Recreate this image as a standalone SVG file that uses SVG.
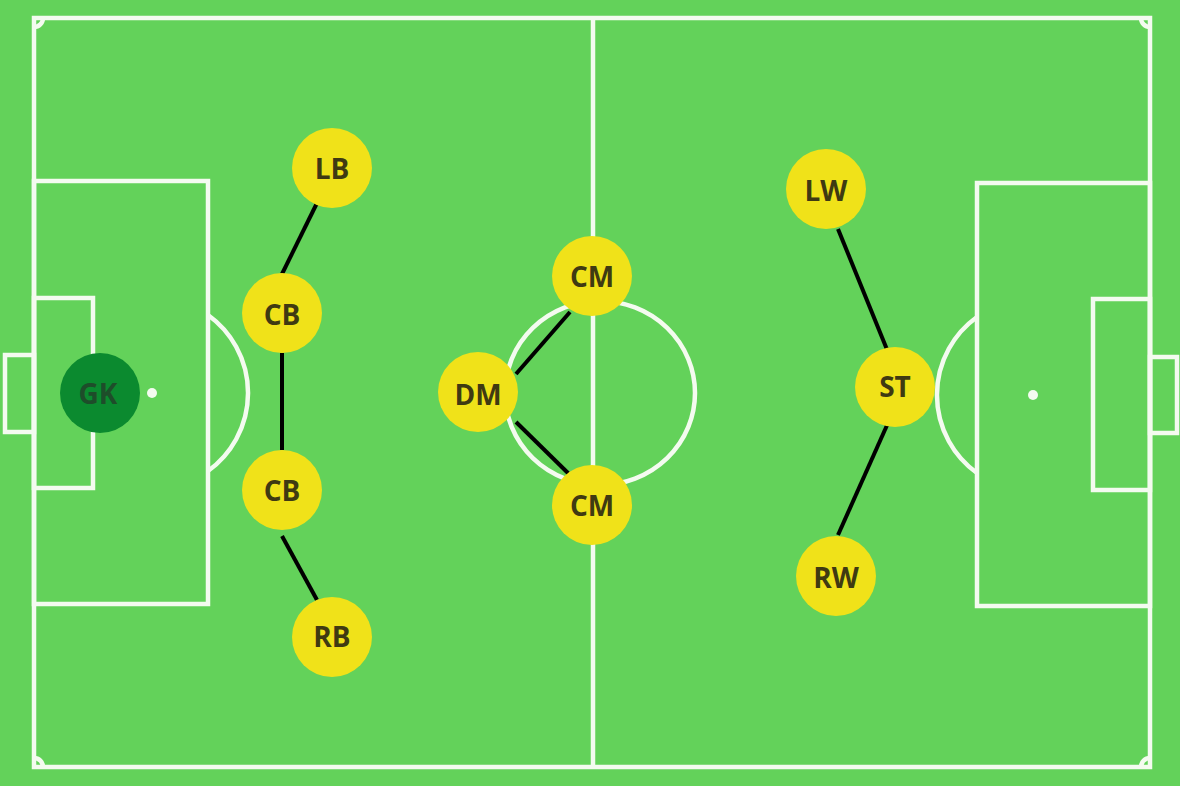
<svg xmlns="http://www.w3.org/2000/svg" width="1180" height="786" viewBox="0 0 1180 786">
<style>
.field{fill:none;stroke:#f4fbf0;stroke-width:4.5}
.spot{fill:#f4fbf0}
.conn{stroke:#000;stroke-width:4;stroke-linecap:butt}
.p{fill:#f0e219}
.gk{fill:#0b8a2f}
.lbl{font-family:"Open Sans","DejaVu Sans",sans-serif;font-weight:700;font-size:28px;fill:#3f3a12;text-anchor:middle}
.gkl{fill:#1e4d2a}
</style>
<rect width="1180" height="786" fill="#63d25a"/>
<g id="pitch">
<rect class="field" x="34" y="18" width="1116" height="749"/>
<line class="field" x1="593" y1="18" x2="593" y2="767"/>
<ellipse class="field" cx="600" cy="393" rx="95" ry="92"/>
<rect class="field" x="34" y="181" width="174" height="423"/>
<rect class="field" x="34" y="298" width="59" height="190"/>
<rect class="field" x="5" y="355" width="29" height="77"/>
<circle class="spot" cx="152" cy="393" r="5"/>
<path class="field" d="M208,315 A96,96 0 0 1 208,471"/>
<rect class="field" x="977" y="183" width="173" height="423"/>
<rect class="field" x="1093" y="299" width="57" height="191"/>
<rect class="field" x="1150" y="357" width="27" height="76"/>
<circle class="spot" cx="1033" cy="395" r="5"/>
<path class="field" d="M977,317 A96,96 0 0 0 977,473"/>
<path class="field" d="M34,27 A9,9 0 0 0 43,18"/>
<path class="field" d="M1141,18 A9,9 0 0 0 1150,27"/>
<path class="field" d="M43,767 A9,9 0 0 0 34,758"/>
<path class="field" d="M1150,758 A9,9 0 0 0 1141,767"/>
</g>
<g id="connectors">
<line class="conn" x1="317" y1="203" x2="282" y2="274"/>
<line class="conn" x1="282" y1="353" x2="282" y2="450"/>
<line class="conn" x1="282" y1="536" x2="317" y2="600"/>
<line class="conn" x1="516" y1="374" x2="570" y2="312"/>
<line class="conn" x1="516" y1="422" x2="570" y2="475"/>
<line class="conn" x1="838" y1="229" x2="888" y2="352"/>
<line class="conn" x1="888" y1="423" x2="838" y2="535"/>
</g>
<g id="gk"><circle class="gk" cx="100" cy="393" r="40"/><text class="lbl gkl" x="98" y="404">GK</text></g>
<g id="lb"><circle class="p" cx="332" cy="168" r="40"/><text class="lbl" x="332" y="179">LB</text></g>
<g id="cb1"><circle class="p" cx="282" cy="313" r="40"/><text class="lbl" x="282" y="325">CB</text></g>
<g id="cb2"><circle class="p" cx="282" cy="490" r="40"/><text class="lbl" x="282" y="501">CB</text></g>
<g id="rb"><circle class="p" cx="332" cy="637" r="40"/><text class="lbl" x="332" y="647">RB</text></g>
<g id="dm"><circle class="p" cx="478" cy="392" r="40"/><text class="lbl" x="478" y="405">DM</text></g>
<g id="cm1"><circle class="p" cx="592" cy="276" r="40"/><text class="lbl" x="592" y="287">CM</text></g>
<g id="cm2"><circle class="p" cx="592" cy="505" r="40"/><text class="lbl" x="592" y="516">CM</text></g>
<g id="lw"><circle class="p" cx="826" cy="189" r="40"/><text class="lbl" x="826" y="201">LW</text></g>
<g id="st"><circle class="p" cx="895" cy="387" r="40"/><text class="lbl" x="895" y="397">ST</text></g>
<g id="rw"><circle class="p" cx="836" cy="576" r="40"/><text class="lbl" x="836" y="588">RW</text></g>
</svg>
